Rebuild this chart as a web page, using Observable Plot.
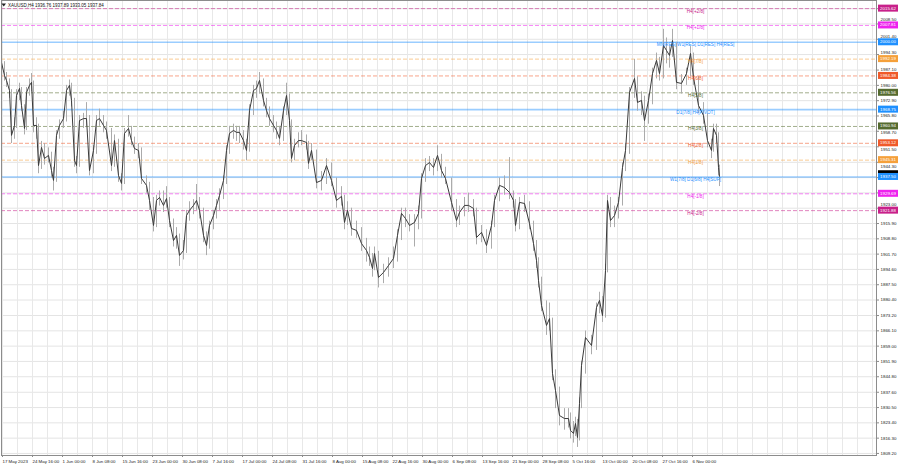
<!DOCTYPE html>
<html><head><meta charset="utf-8">
<script src="https://cdn.jsdelivr.net/npm/d3@7"></script>
<script src="https://cdn.jsdelivr.net/npm/@observablehq/plot@0.6"></script>
<style>
html,body{margin:0;padding:0;background:#fff;}
#chart{width:900px;height:468px;}
svg{display:block;}
</style></head><body><div id="chart"></div>
<script>
// ---- data ----
const symbolName = "XAUUSD,H4";
const lastBarOHLC = [1936.76, 1937.89, 1933.05, 1937.84];

const barIndex = [0,3,5,8,10,13,15,18,20,23,25,28,30,32,35,37,40,43,47,50,52,55,58,62,65,68,70,73,75,78,82,85,88,92,95,98,102,105,110,113,117,120,123,127,130,133,137,140,145,148,152,155,158,162,165,168,172,175,178,182,185,188,192,195,198,202,205,208,212,215,218,222,225,228,232,235,238,242,245,248,252,255,258,262,265,268,272,275,278,282,285,288,290,293,297,300,305,307,310,315,320,325,330,335,340,343,346,350,355,360,365,368,371,373,377,382,387,392,396,400,404,408,413,417,420,424,428,432,436,440,444,450,455,458,463,467,472,475,480,485,490,493,498,503,508,512,514,518,523,528,532,535,537,540,545,548,551,554,558,563,567,569,572,574,576,578,580,584,590,595,598,601,604,606,609,613,617,621,624,628,633,636,640,643,647,651,655,658,662,665,668,671,675,680,685,689,692,697,702,706,710,712,715,717,718];
const closes = [1990.6,1984.6,1982.3,1977.6,1956.8,1961.4,1975.3,1978.6,1970.7,1960.0,1976.7,1980.0,1981.4,1961.4,1961.4,1942.8,1951.2,1946.1,1947.5,1940.5,1935.9,1956.8,1961.4,1964.6,1977.6,1980.0,1973.0,1945.2,1942.8,1963.7,1964.6,1964.6,1940.5,1949.8,1963.7,1964.6,1961.4,1959.1,1942.8,1954.4,1938.2,1934.5,1957.7,1960.0,1954.4,1950.7,1949.8,1936.8,1933.6,1926.6,1915.0,1926.6,1928.0,1924.3,1927.5,1917.3,1908.0,1910.4,1901.1,1903.4,1919.6,1922.0,1924.3,1926.6,1922.0,1910.4,1905.7,1915.0,1919.6,1924.3,1928.9,1935.9,1949.8,1957.7,1959.1,1958.2,1958.2,1954.4,1949.8,1968.4,1977.6,1978.6,1982.3,1973.0,1968.4,1964.6,1961.4,1959.1,1955.4,1968.4,1975.3,1963.7,1946.1,1952.1,1954.4,1954.4,1953.5,1943.8,1949.8,1934.9,1935.9,1942.8,1935.9,1926.6,1928.5,1916.4,1922.0,1913.6,1912.7,1906.6,1903.4,1900.2,1895.0,1902.0,1890.9,1893.2,1896.4,1899.7,1910.4,1920.6,1918.2,1915.0,1916.4,1920.6,1936.8,1942.8,1944.2,1941.9,1947.5,1940.5,1936.8,1925.7,1917.3,1921.0,1924.3,1924.3,1922.9,1909.4,1911.8,1905.7,1915.0,1926.6,1933.6,1932.6,1930.3,1926.6,1915.0,1925.7,1925.2,1915.9,1906.6,1898.8,1889.5,1877.9,1868.6,1871.8,1846.3,1838.4,1826.8,1825.4,1825.4,1819.9,1818.5,1823.1,1816.6,1832.4,1850.0,1863.0,1859.3,1876.9,1880.2,1873.2,1894.1,1926.6,1917.3,1919.6,1925.7,1941.9,1949.8,1976.7,1983.2,1972.1,1973.0,1963.7,1973.0,1985.5,1991.6,1985.5,1998.5,1996.2,1993.9,2000.8,1981.4,1980.9,1985.5,1994.8,1983.7,1970.7,1966.0,1954.4,1949.8,1960.0,1956.8,1941.9,1937.84];
const highs = [1993,1991,1986,1983,1978,1965,1978,1981,1979,1971,1979,1983,1985.5,1982,1965,1962,1954,1953,1951,1949,1942,1959,1964,1968,1980,1982.5,1981,1974,1947,1966,1967,1972,1966,1952,1966,1969,1966,1963,1960,1957,1955,1939,1960,1966,1961,1956,1953,1951,1938,1935,1928,1929,1931,1931,1933,1928,1918,1914,1911,1908,1922,1926,1927,1934,1928,1923,1912,1917,1922,1927,1932,1938,1952,1961,1962,1961,1961,1959,1955,1971,1980,1982,1986,1983,1974,1970,1966,1963,1961,1970,1981,1976,1964,1955,1958,1959,1957,1954,1953,1950,1940,1946,1944,1937,1933,1929,1926,1923,1917,1914,1909,1905,1902,1905,1903,1897,1900,1905,1913,1923,1923,1920,1920,1924,1939,1946,1947,1946,1952,1948,1942,1937,1927,1924,1928,1930,1927,1923,1915,1913,1917,1929,1937,1938,1946.5,1931,1927,1928,1929,1926,1917,1908,1900,1891,1880,1879,1872,1848,1840,1830,1830,1828,1824,1826,1825,1835,1852,1866,1864,1879,1884,1882,1897,1929,1928,1924,1928,1944,1953,1979,1992,1984,1977,1975,1976,1988,1995,1993,2006,2002,1998,2006,2000,1985,1988,1998,1995,1984,1972,1967,1955,1962,1962,1958,1943];
const lows = [1986,1982,1979,1974,1953,1955,1960,1973,1968,1957,1959,1975,1977,1958,1955,1939,1941,1943,1944,1937,1931,1935,1955,1960,1963,1975,1970,1942,1939,1942,1960,1961,1938,1939,1948,1961,1958,1955,1940,1942,1935,1931,1934,1956,1952,1948,1946,1934,1930,1922,1912,1914,1924,1921,1923,1914,1905,1904,1896,1899,1902,1917,1920,1922,1918,1907,1901,1904,1913,1918,1922,1927,1934,1948,1955,1954,1953,1950,1945,1949,1966,1974,1976,1970,1965,1961,1958,1955,1952,1954,1966,1961,1944,1945,1951,1952,1950,1941,1945,1932,1931,1934,1933,1923,1924,1913,1915,1910,1909,1903,1898,1896,1891,1894,1886,1888,1891,1895,1898,1908,1914,1912,1905,1913,1918,1935,1940,1938,1940,1937,1934,1922,1914,1915,1919,1921,1919,1906,1907,1902,1904,1914,1926,1929,1927,1923,1912,1913,1921,1913,1903,1895,1886,1875,1864,1866,1843,1830,1822,1820,1821,1816,1814,1817,1812,1815,1830,1846,1855,1857,1874,1870,1872,1893,1914,1914,1918,1924,1940,1948,1974,1968,1966,1954,1962,1971,1983,1982,1983,1990,1988,1993,1978,1976,1980,1984,1980,1967,1962,1951,1946,1949,1953,1938,1933.05];

const priceTicks = [1809.20,1816.30,1823.40,1830.50,1837.60,1844.80,1851.90,1859.00,1866.10,1873.20,1880.40,1887.50,1894.60,1901.70,1908.80,1915.90,1923.00,1930.10,1937.20,1944.30,1951.50,1958.70,1965.80,1972.90,1980.00,1987.10,1994.30,2001.40,2008.50,2015.60];

const timeLabelBars = [1,31,61,91,121,151,181,211,241,271,301,331,361,391,421,451,481,511,541,571,601,631,661,691];
const timeLabels = ["17 May 2023","24 May 16:00","1 Jun 00:00","8 Jun 08:00","15 Jun 16:00","23 Jun 00:00","30 Jun 08:00","7 Jul 16:00","17 Jul 00:00","24 Jul 08:00","31 Jul 16:00","8 Aug 00:00","15 Aug 08:00","22 Aug 16:00","30 Aug 00:00","6 Sep 08:00","13 Sep 16:00","21 Sep 00:00","28 Sep 08:00","5 Oct 16:00","13 Oct 00:00","20 Oct 08:00","27 Oct 16:00","6 Nov 00:00"];

const levelValues = [2015.62,2007.81,2000.00,1992.19,1984.38,1976.56,1968.75,1960.94,1953.12,1945.31,1937.50,1929.69,1921.88];
const levelNames = ["H4[+2/8]","H4[+1/8]","MN[RES] W1[RES] D1[RES] H4[RES]","H4[7/8]","H4[6/8]","H4[5/8]","D1[7/8] H4[PIVOT]","H4[3/8]","H4[2/8]","H4[1/8]","W1[7/8] D1[6/8] H4[SUP]","H4[-1/8]","H4[-2/8]"];
const levelKinds = ["+2","+1","8","7","6","5","4","3","2","1","0","-1","-2"];

// ---- styling / layout ----
const W = 900, H = 468;
const mL = 1, mR = 24, mT = 0, mB = 13;
const FONT = "'Liberation Sans', Arial, sans-serif";
const kindColor = {"+2":"#c8208a","-2":"#c8208a","+1":"#ee22ee","-1":"#ee22ee","8":"#1e90ff","4":"#1e90ff","0":"#1e90ff","7":"#f5a03a","1":"#f5a03a","6":"#f05a2a","2":"#f05a2a","5":"#556b2f","3":"#556b2f"};
const solidKinds = new Set(["8","4","0"]);

const bars = barIndex.map((i, k) => ({i, c: closes[k], h: highs[k], l: lows[k]}));
const levels = levelValues.map((v, k) => ({v, name: levelNames[k], kind: levelKinds[k], color: kindColor[levelKinds[k]]}));
const dashedLevels = levels.filter(d => !solidKinds.has(d.kind));
const solidLevels = levels.filter(d => solidKinds.has(d.kind));
const labelMap = new Map(timeLabelBars.map((b, k) => [b, timeLabels[k]]));
const gridBars = d3.range(timeLabelBars[0], 876, (timeLabelBars[1] - timeLabelBars[0]) / 2);
const lastIdx = barIndex[barIndex.length - 1];
const levelLabelBar = lastIdx - 24;

// right-axis tick labels: hidden when fully under an opaque price box,
// nudged clear of a box when they only partly collide
const pxPerUnit = (H - mT - mB) / (2019.39 - 1808.25);
const boxValues = levelValues.concat([lastBarOHLC[3]]);
const minGap = 6.2; // px between label centre and box centre
const tickLabels = [];
priceTicks.forEach(t => {
  const near = d3.least(boxValues, v => Math.abs(v - t));
  const dpx = (t - near) * pxPerUnit;
  if (Math.abs(dpx) < 1.2) return;
  let shown = t;
  if (Math.abs(dpx) < minGap) shown = near + Math.sign(dpx) * minGap / pxPerUnit;
  tickLabels.push({t, shown, label: t.toFixed(2)});
});

const plot = Plot.plot({
  width: W, height: H,
  marginLeft: mL, marginRight: mR, marginTop: mT, marginBottom: mB,
  x: {domain: [0, 875], axis: null},
  y: {domain: [1808.25, 2019.39], axis: null},
  color: {type: "identity"},
  style: {fontFamily: FONT, background: "#fff"},
  marks: [
    Plot.gridY(priceTicks, {stroke: "#e4e4e4", strokeOpacity: 1}),
    Plot.gridX(gridBars, {stroke: "#e8e8e8", strokeOpacity: 1}),
    Plot.ruleY(dashedLevels, {y: "v", stroke: "color", strokeOpacity: 0.55, strokeDasharray: "4,2", strokeWidth: 1}),
    Plot.ruleY(solidLevels, {y: "v", stroke: "color", strokeOpacity: 0.45, strokeWidth: 1.6}),
    Plot.ruleX(bars, {x: "i", y1: "l", y2: "h", stroke: "#ababab", strokeWidth: 1}),
    Plot.line(bars, {x: "i", y: "c", stroke: "#3a3a3a", strokeWidth: 1}),
    Plot.text(levels, {x: () => levelLabelBar, y: "v", text: "name", fill: "color", fontSize: 4.6, dy: 2.5, textAnchor: "middle"}),
    Plot.frame({stroke: "#8c8c8c"}),
    Plot.axisY(priceTicks, {anchor: "right", tickSize: 2, tickFormat: () => "", stroke: "#8c8c8c", label: null}),
    Plot.text(tickLabels, {y: "shown", text: "label", frameAnchor: "right", dx: 4, textAnchor: "start", fontSize: 4.4, fill: "#1a1a1a"}),
    Plot.axisX(timeLabelBars, {anchor: "bottom", tickSize: 2, tickPadding: 2, tickFormat: d => labelMap.get(d), fontSize: 4.4, textAnchor: "start", fill: "#1a1a1a", stroke: "#8c8c8c", label: null})
  ]
});

// price boxes on the right axis
const svg = d3.select(plot);
const ys = plot.scale("y");
const bx = W - mR + 2, bw = 20, bh = 7;
const boxG = svg.append("g").attr("font-family", FONT).attr("font-size", 4.4).attr("text-anchor", "middle");
// current-price marker (black), mostly covered by the level box in front of it
boxG.append("rect").attr("x", bx).attr("y", ys.apply(lastBarOHLC[3]) - 2 - bh / 2).attr("width", bw).attr("height", bh).attr("fill", "#000");
levels.forEach(d => {
  const y = ys.apply(d.v);
  boxG.append("rect").attr("x", bx).attr("y", y - bh / 2).attr("width", bw).attr("height", bh).attr("fill", d.color);
  boxG.append("text").attr("x", bx + bw / 2).attr("y", y).attr("dy", "0.35em").attr("fill", "#fff").text(d.v.toFixed(2));
});

// header
const hdr = svg.append("g").attr("font-family", FONT).attr("text-anchor", "start");
hdr.append("path").attr("d", "M1.5,3.5 L6,3.5 L3.75,6.5 Z").attr("fill", "#222");
hdr.append("text").attr("x", 8).attr("y", 5).attr("dy", "0.35em").attr("font-size", 4.5).attr("fill", "#111")
  .text(symbolName + " " + lastBarOHLC.map(v => v.toFixed(2)).join(" "));

document.getElementById("chart").appendChild(plot);
</script></body></html>
